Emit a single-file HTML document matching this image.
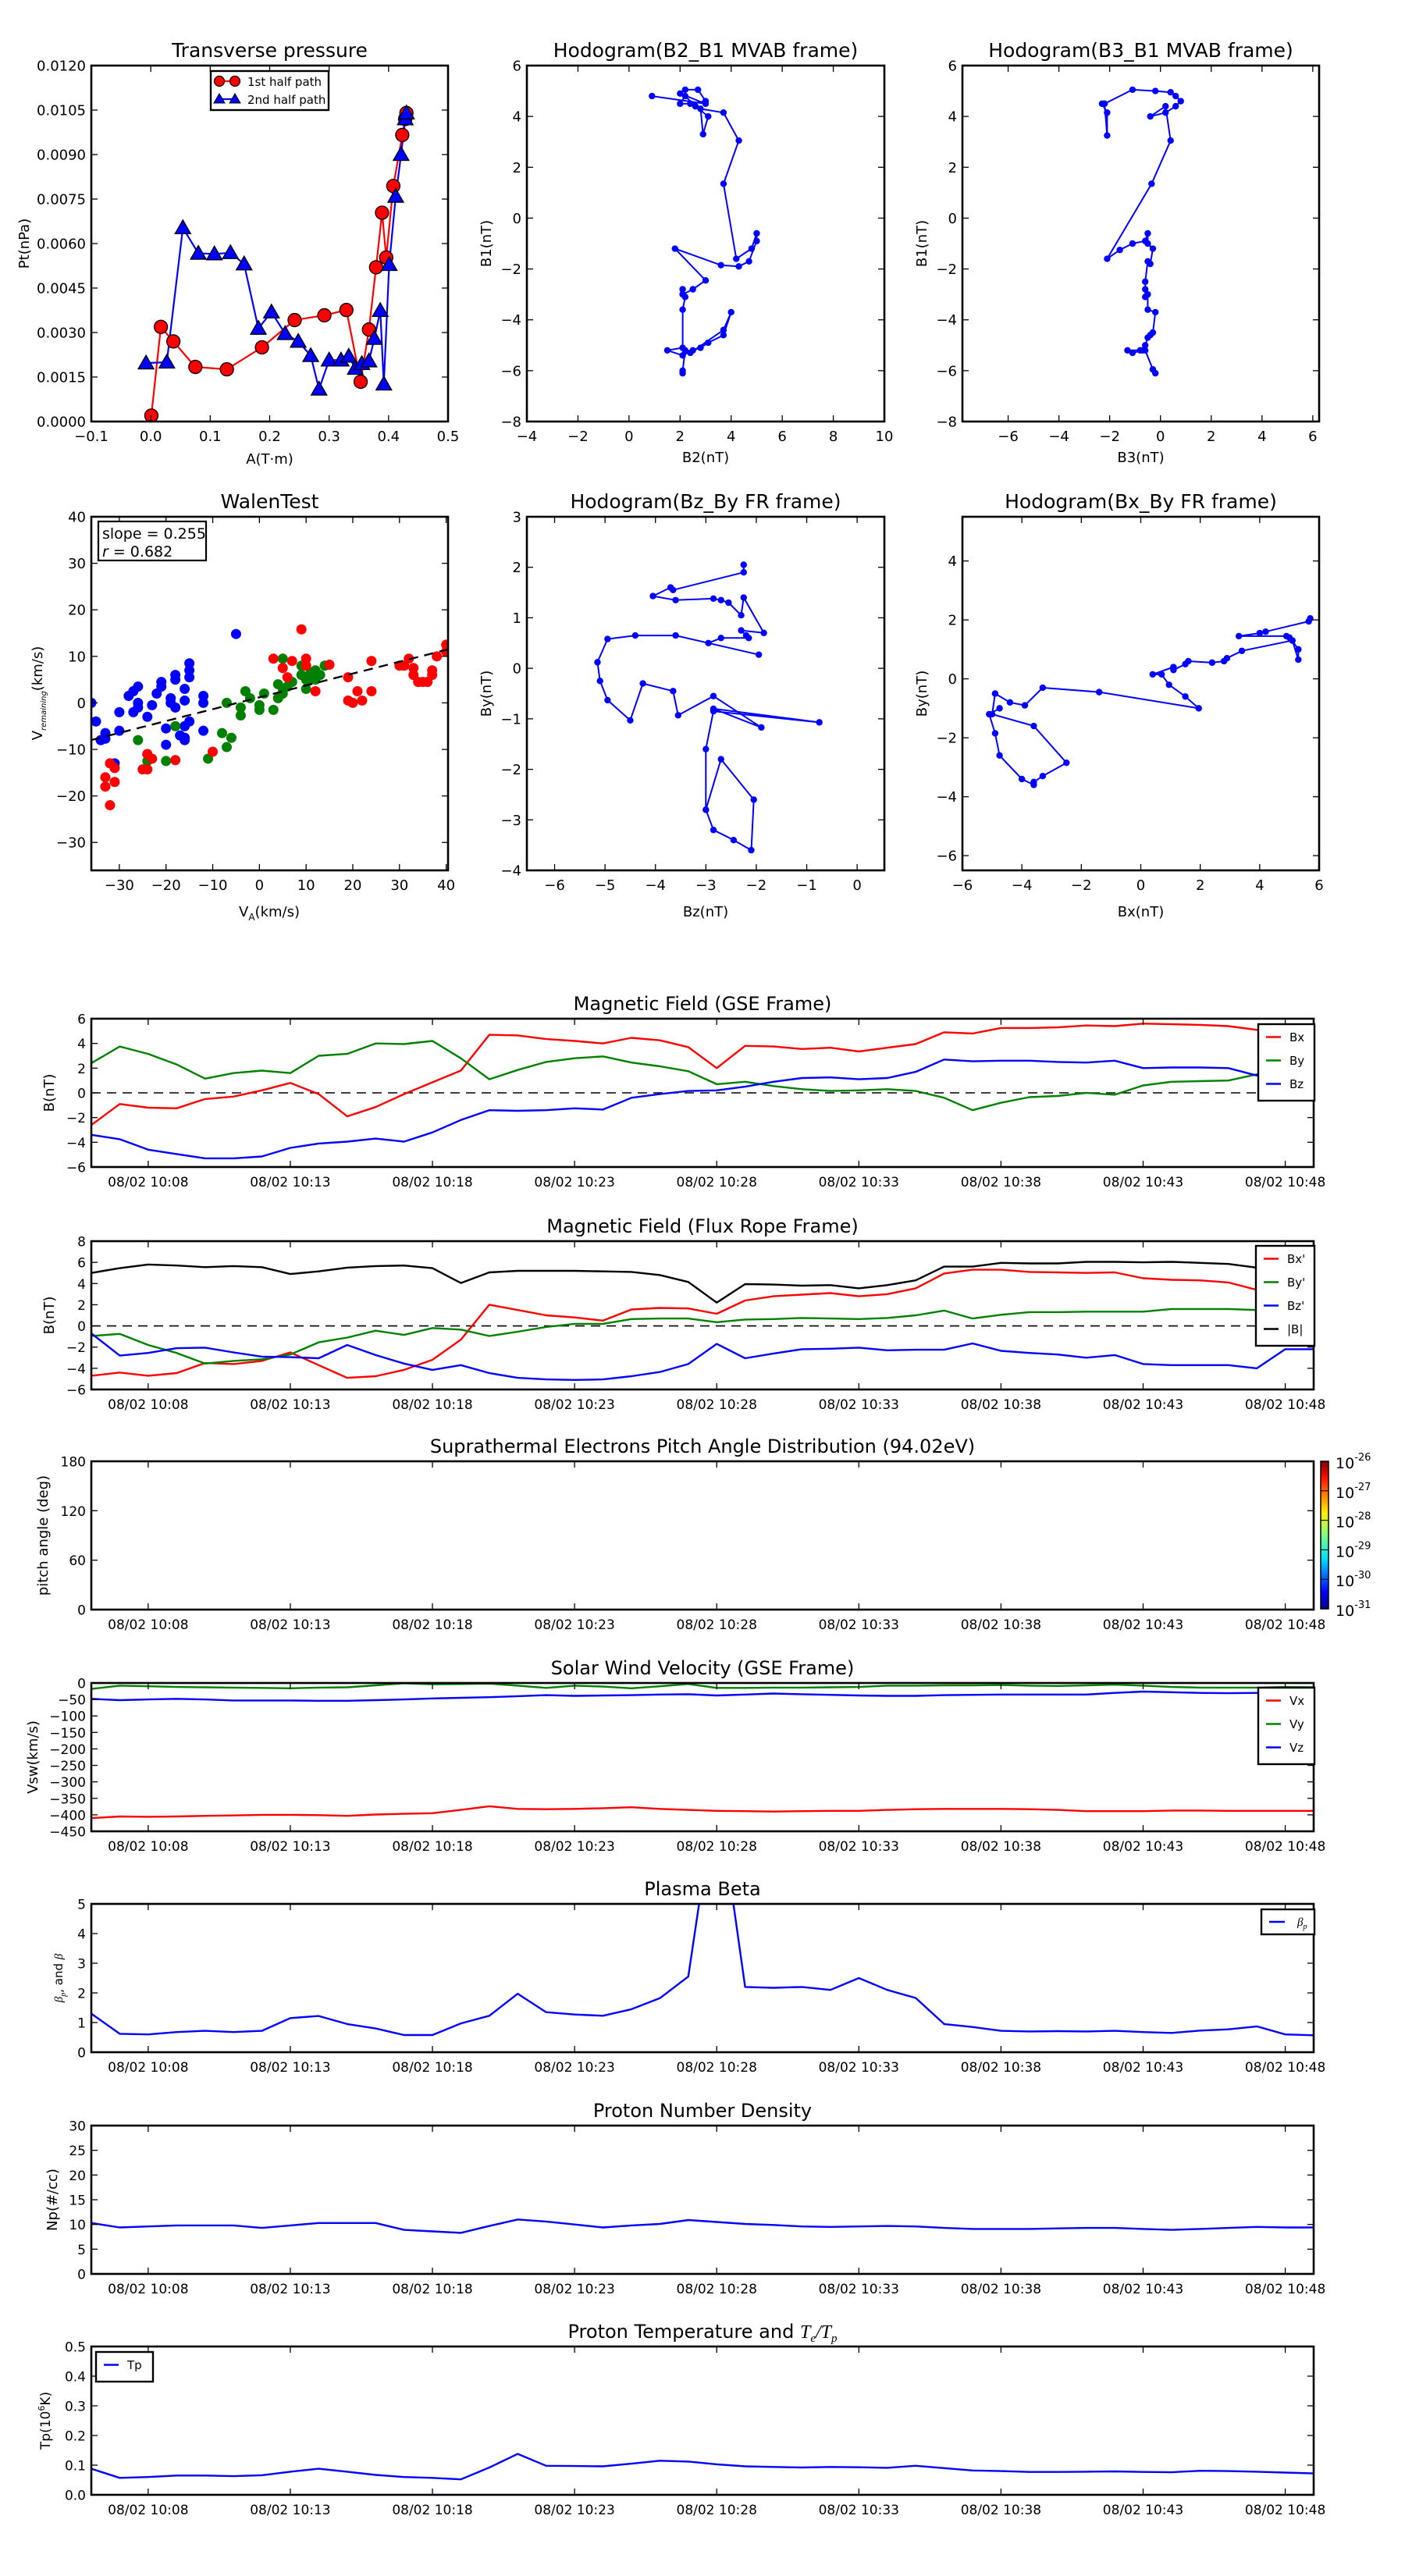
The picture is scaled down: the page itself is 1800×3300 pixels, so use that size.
<!DOCTYPE html>
<html><head><meta charset="utf-8">
<style>
html,body{margin:0;padding:0;background:#fff;}
svg{display:block;font-family:"DejaVu Sans","Liberation Sans",sans-serif;}
</style></head>
<body>
<svg id="fig" xmlns="http://www.w3.org/2000/svg" width="1800" height="3300" viewBox="0 0 1800 3300">
<defs>
<linearGradient id="jet" x1="0" y1="1" x2="0" y2="0">
<stop offset="0" stop-color="#00007f"/><stop offset="0.11" stop-color="#0000ff"/><stop offset="0.34" stop-color="#00dfff"/>
<stop offset="0.5" stop-color="#7fff7f"/><stop offset="0.65" stop-color="#ffef00"/><stop offset="0.89" stop-color="#ff1000"/><stop offset="1" stop-color="#7f0000"/>
</linearGradient>
</defs>
</svg>
<script>
// ---------- DATA ----------
const ptA1=[0.001,0.017,0.038,0.075,0.128,0.187,0.242,0.292,0.329,0.353,0.367,0.379,0.389,0.396,0.408,0.423,0.428,0.430];
const ptP1=[0.0002,0.00319,0.0027,0.00184,0.00176,0.0025,0.00342,0.00358,0.00376,0.00134,0.0031,0.0052,0.00704,0.00553,0.00794,0.00966,0.0102,0.0104];
const ptA2=[-0.008,0.027,0.054,0.080,0.107,0.134,0.157,0.181,0.203,0.226,0.248,0.269,0.283,0.300,0.320,0.333,0.344,0.355,0.367,0.376,0.386,0.392,0.401,0.412,0.421,0.428,0.430];
const ptP2=[0.00197,0.002,0.00653,0.00567,0.00565,0.00569,0.00531,0.00314,0.00369,0.00296,0.0027,0.00222,0.00109,0.00207,0.00207,0.0022,0.00179,0.00195,0.00204,0.0028,0.00374,0.00126,0.00529,0.00759,0.009,0.0102,0.0104];

const hB2=[0.9,3.0,2.0,2.2,2.7,3.0,2.4,2.0,2.2,2.6,3.1,2.9,2.8,3.7,4.3,3.7,4.2,4.8,5.0,5.0,4.7,4.3,3.6,1.8,3.0,2.5,2.1,2.1,2.2,2.1,2.1,1.5,2.1,2.5,2.8,3.1,3.7,4.0,3.7,2.4,2.2,2.1,2.1];
const hB1a=[4.8,4.5,4.9,5.05,5.05,4.6,4.5,4.5,4.8,4.4,4.0,3.3,4.3,4.15,3.05,1.35,-1.6,-1.2,-0.6,-0.9,-1.7,-1.9,-1.85,-1.2,-2.45,-2.8,-3.0,-2.8,-3.1,-3.6,-5.1,-5.2,-5.4,-5.2,-5.1,-4.9,-4.6,-3.7,-4.4,-5.3,-5.2,-6.0,-6.1];
const hB3=[-2.3,-2.1,-2.1,-2.2,-1.1,-0.2,0.4,0.6,0.8,0.6,0.2,-0.4,0.2,0.4,-0.35,-2.1,-1.6,-1.1,-0.6,-0.5,-0.5,-0.3,-0.4,-0.5,-0.6,-0.6,-0.6,-0.5,-0.5,-0.2,-0.3,-0.4,-0.5,-0.6,-0.7,-1.1,-1.3,-0.8,-0.6,-0.3,-0.2];
const hB1b=[4.5,4.15,3.25,4.5,5.05,5.0,4.95,4.8,4.6,4.4,4.15,4.0,4.4,3.05,1.35,-1.6,-1.25,-1.0,-0.9,-0.6,-1.0,-1.2,-1.8,-1.7,-2.5,-2.8,-3.1,-3.0,-3.6,-3.7,-4.5,-4.6,-4.7,-5.0,-5.2,-5.3,-5.2,-5.2,-5.2,-5.95,-6.1];

const wBlueX=[-36,-35,-34,-33,-33,-31,-30,-30,-28,-27,-27,-26,-26,-26,-24,-23,-22,-21,-21,-20,-20,-19,-19,-18,-18,-17,-16,-16,-16,-16,-15,-15,-15,-15,-12,-12,-12,-5,-18,-16];
const wBlueY=[0,-4,-8,-6.5,-7.7,-13,-6,-2,1.5,-2,2.5,3.5,0,-1,-3,-0.5,2,4.5,3.5,-5.5,-9,1,0,-1,6,-7,-8,-7.5,0.5,3,5.5,8.5,7,-4,-6,1.5,0,14.8,5,-5];
const wGreenX=[-26,-24,-24,-20,-18,-11,-8,-7,-6,-7,-4,-4,-3,-2,0,0,1,3,4,4,5,5,5,6,7,9,9,10,10,11,11,12,13,14,10,12];
const wGreenY=[-8,-11,-12.5,-12.5,-5,-12,-6.5,-9.5,-7.5,0,-1,-2.7,2.5,1,-0.5,-1.5,2,-1.5,4,1,9.5,3,2,3.5,4.5,6,8,3,8,5,6.5,5,6,8,5,7];
const wRedX=[-33,-33,-32,-32,-31,-31,-25,-24,-24,-23,-18,-10,3,5,6,7,9,10,10,12,15,19,19,20,21,22,24,24,30,32,33,34,35,36,37,37,38,40,40,31,33];
const wRedY=[-16,-18,-22,-13,-14,-17,-14.3,-14.3,-11,-12,-12.3,-10.5,9.5,7.5,5.5,9,15.8,9.5,8,2.5,8.2,5.5,0.5,0,2.5,0.5,2.5,9,8,9.5,7.5,4.5,4.5,4.5,7,6,10,12.5,11,8,6];
const walenSlope=0.255, walenIntercept=1.2;

const frBz=[-2.25,-2.25,-3.65,-3.7,-4.05,-3.6,-2.85,-2.7,-2.55,-2.3,-2.25,-1.85,-2.3,-2.2,-2.15,-2.7,-2.95,-1.95,-3.6,-4.4,-4.95,-5.15,-5.1,-4.95,-4.5,-4.25,-3.65,-3.55,-2.85,-1.9,-2.85,-0.75,-2.85,-3.0,-3.0,-2.7,-2.05,-2.1,-2.45,-2.85,-3.0];
const frBy1=[2.05,1.9,1.55,1.6,1.43,1.35,1.38,1.35,1.3,1.05,1.4,0.7,0.75,0.65,0.6,0.6,0.5,0.27,0.65,0.65,0.58,0.12,-0.25,-0.63,-1.03,-0.3,-0.45,-0.93,-0.55,-1.17,-0.8,-1.07,-0.85,-1.6,-2.8,-1.8,-2.6,-3.6,-3.4,-3.2,-2.8];
const frBx=[5.7,5.65,4.2,4.0,3.3,4.9,5.0,5.1,5.3,5.3,5.1,3.4,2.9,2.8,2.4,1.6,1.5,1.1,1.1,0.4,0.7,0.95,1.5,1.95,-1.4,-3.3,-3.9,-4.4,-4.9,-5.0,-3.6,-2.5,-3.3,-3.6,-3.6,-4.0,-4.75,-4.9,-5.1,-4.75];
const frBy2=[2.05,1.95,1.6,1.55,1.45,1.45,1.4,1.3,1.0,0.65,1.3,0.95,0.7,0.6,0.55,0.6,0.5,0.3,0.4,0.15,0.15,-0.2,-0.6,-1.0,-0.45,-0.3,-0.9,-0.8,-0.5,-1.2,-1.6,-2.85,-3.3,-3.5,-3.6,-3.4,-2.6,-1.85,-1.2,-1.0];

const tickMinutes=[2,7,12,17,22,27,32,37,42];
const tickLabels=['08/02 10:08','08/02 10:13','08/02 10:18','08/02 10:23','08/02 10:28','08/02 10:33','08/02 10:38','08/02 10:43','08/02 10:48'];

const gseBx=[-2.6,-0.9,-1.2,-1.25,-0.5,-0.3,0.2,0.8,-0.1,-1.9,-1.15,-0.1,0.85,1.8,4.7,4.65,4.35,4.2,4.0,4.45,4.25,3.7,2.0,3.8,3.75,3.55,3.65,3.35,3.65,3.95,4.9,4.8,5.25,5.25,5.3,5.45,5.4,5.6,5.55,5.5,5.4,5.1,5.2,5.3];
const gseBy=[2.4,3.75,3.15,2.3,1.15,1.6,1.8,1.6,3.0,3.15,4.0,3.95,4.2,2.8,1.1,1.85,2.5,2.8,2.95,2.45,2.15,1.75,0.7,0.9,0.55,0.3,0.15,0.2,0.3,0.15,-0.4,-1.4,-0.8,-0.35,-0.25,0,-0.15,0.6,0.9,0.95,1.0,1.5,-0.55,-0.5];
const gseBz=[-3.4,-3.75,-4.6,-4.95,-5.3,-5.3,-5.15,-4.45,-4.1,-3.95,-3.7,-3.95,-3.2,-2.2,-1.4,-1.45,-1.4,-1.25,-1.35,-0.4,-0.1,0.15,0.2,0.5,0.9,1.2,1.25,1.1,1.2,1.7,2.7,2.55,2.6,2.6,2.5,2.45,2.6,2.0,2.05,2.05,2.0,1.4,3.7,3.6];

const frpBx=[-4.7,-4.4,-4.7,-4.45,-3.5,-3.6,-3.3,-2.5,-3.7,-4.9,-4.75,-4.15,-3.2,-1.3,2.0,1.5,1.0,0.8,0.5,1.55,1.7,1.65,1.15,2.4,2.8,2.95,3.1,2.8,3.0,3.55,4.95,5.3,5.3,5.1,5.05,5.0,5.05,4.5,4.35,4.3,4.1,3.4,5.7,5.7];
const frpBy=[-0.95,-0.75,-1.8,-2.55,-3.55,-3.3,-3.15,-2.7,-1.55,-1.1,-0.45,-0.85,-0.2,-0.35,-0.95,-0.55,-0.1,0.2,0.2,0.65,0.7,0.7,0.35,0.6,0.65,0.75,0.7,0.65,0.75,1.0,1.45,0.7,1.05,1.3,1.3,1.35,1.35,1.35,1.6,1.6,1.6,1.5,2.1,2.1];
const frpBz=[-0.7,-2.8,-2.55,-2.1,-2.05,-2.5,-2.9,-2.95,-3.05,-1.8,-2.75,-3.55,-4.15,-3.7,-4.45,-4.9,-5.05,-5.1,-5.05,-4.75,-4.35,-3.6,-1.7,-3.05,-2.6,-2.2,-2.15,-2.05,-2.3,-2.25,-2.25,-1.65,-2.35,-2.55,-2.7,-3.0,-2.75,-3.6,-3.7,-3.7,-3.7,-4.0,-2.2,-2.2];
const frpBt=[5.0,5.45,5.8,5.7,5.55,5.65,5.55,4.9,5.15,5.5,5.65,5.7,5.45,4.05,5.05,5.2,5.2,5.2,5.15,5.1,4.8,4.15,2.2,3.95,3.9,3.8,3.85,3.55,3.85,4.3,5.6,5.6,5.95,5.9,5.9,6.05,6.05,6.0,6.05,5.95,5.85,5.5,5.7,5.7];

const vswX=[-410,-405,-406,-405,-403,-402,-400,-400,-401,-403,-399,-397,-395,-385,-374,-382,-383,-382,-380,-377,-382,-385,-388,-389,-390,-389,-388,-388,-385,-383,-382,-382,-382,-383,-385,-389,-389,-389,-387,-387,-388,-388,-388,-388];
const vswY=[-18,-8,-10,-12,-13,-14,-15,-16,-14,-13,-7,-1,-4,-3,-2,-8,-15,-8,-11,-16,-10,-3,-15,-15,-14,-14,-13,-12,-8,-8,-7,-7,-6,-8,-9,-7,-5,-8,-12,-14,-14,-14,-12,-13];
const vswZ=[-48,-52,-50,-48,-50,-53,-53,-53,-54,-54,-52,-50,-47,-45,-43,-40,-37,-39,-38,-37,-35,-34,-38,-35,-32,-34,-36,-38,-39,-39,-37,-36,-35,-35,-35,-35,-30,-26,-28,-30,-31,-30,-30,-30];

const betaP=[1.3,0.62,0.6,0.68,0.72,0.68,0.72,1.15,1.22,0.95,0.8,0.58,0.58,0.97,1.23,1.97,1.35,1.27,1.23,1.45,1.82,2.55,9.0,2.2,2.17,2.2,2.1,2.5,2.1,1.83,0.95,0.85,0.72,0.7,0.71,0.7,0.72,0.68,0.65,0.73,0.77,0.87,0.6,0.57];
const npVals=[10.3,9.4,9.6,9.8,9.8,9.8,9.3,9.8,10.3,10.3,10.3,8.9,8.6,8.3,9.7,11.0,10.6,10.0,9.4,9.8,10.1,10.9,10.5,10.1,9.9,9.6,9.5,9.6,9.7,9.6,9.3,9.1,9.1,9.1,9.2,9.3,9.3,9.1,8.9,9.1,9.3,9.5,9.4,9.4];
const tpVals=[0.088,0.057,0.060,0.065,0.065,0.063,0.066,0.078,0.088,0.078,0.067,0.060,0.057,0.052,0.092,0.138,0.098,0.097,0.096,0.105,0.115,0.112,0.103,0.096,0.094,0.092,0.094,0.093,0.091,0.098,0.090,0.082,0.080,0.077,0.077,0.078,0.079,0.077,0.076,0.081,0.080,0.078,0.075,0.072];
const cbarLabels=['-26','-27','-28','-29','-30','-31'];

// ---------- HELPERS ----------
const NS='http://www.w3.org/2000/svg';
const fig=document.getElementById('fig');
function mk(tag,attrs,parent){const e=document.createElementNS(NS,tag);for(const k in attrs)e.setAttribute(k,attrs[k]);(parent||fig).appendChild(e);return e;}
function txt(s,x,y,size,anchor,parent,extra){const t=mk('text',Object.assign({x:x,y:y,'font-size':size,'text-anchor':anchor||'middle',fill:'#000'},extra||{}),parent);t.textContent=s;return t;}
function fmtNum(v,d){const s=Math.abs(v).toFixed(d);return (v<0?'\u2212':'')+s;}
let clipN=0;
function axes(c){
  const g=mk('g',{});
  
  
  const sx=v=>c.x0+(v-c.xmin)/(c.xmax-c.xmin)*c.w;
  const sy=v=>c.y0+c.h-(v-c.ymin)/(c.ymax-c.ymin)*c.h;
  const id='clip'+(clipN++);
  const cp=mk('clipPath',{id:id},g);mk('rect',{x:c.x0,y:c.y0,width:c.w,height:c.h},cp);
  const plot=mk('g',{'clip-path':'url(#'+id+')'},g);
  const tl=8, fs=c.fs||18;
  const xt=mk('g',{},g);
  
  
  c.xticks.forEach((v,i)=>{const x=sx(v);
    mk('line',{x1:x,x2:x,y1:c.y0+c.h,y2:c.y0+c.h-tl,stroke:'#000','stroke-width':1.3},xt);
    mk('line',{x1:x,x2:x,y1:c.y0,y2:c.y0+tl,stroke:'#000','stroke-width':1.3},xt);
    txt(c.xlabels[i],x,c.y0+c.h+25,fs,'middle',xt);});
  const yt=mk('g',{},g);
  
  
  c.yticks.forEach((v,i)=>{const y=sy(v);
    mk('line',{x1:c.x0,x2:c.x0+tl,y1:y,y2:y,stroke:'#000','stroke-width':1.3},yt);
    mk('line',{x1:c.x0+c.w,x2:c.x0+c.w-tl,y1:y,y2:y,stroke:'#000','stroke-width':1.3},yt);
    txt(c.ylabels[i],c.x0-7,y+6.5,fs,'end',yt);});
  const fr=mk('rect',{x:c.x0,y:c.y0,width:c.w,height:c.h,fill:'none',stroke:'#000','stroke-width':2.6},g);
  
  
  const tt=txt(c.title,c.x0+c.w/2,c.y0-11,c.tfs||25,'middle',g);
  
  
  if(c.xlabel){const xl=txt(c.xlabel,c.x0+c.w/2,c.xlabelY,18,'middle',g);
    
    }
  if(c.ylabel){const yl=txt(c.ylabel,0,0,c.ylfs||18,'middle',g,{transform:'translate('+(c.ylabelX+6)+','+(c.y0+c.h/2)+') rotate(-90)'});
    
    }
  return {sx,sy,plot,g};
}
function line(ax,xs,ys,color,w,name,dash){
  const pts=xs.map((x,i)=>ax.sx(x).toFixed(1)+','+ax.sy(ys[i]).toFixed(1)).join(' ');
  const p=mk('polyline',{points:pts,fill:'none',stroke:color,'stroke-width':w||2.4,'stroke-linejoin':'round'},ax.plot);
  if(dash)p.setAttribute('stroke-dasharray',dash);
  
  
  return p;
}
function dots(ax,xs,ys,color,r,name,edge){
  const g=mk('g',{},ax.plot);
  
  
  xs.forEach((x,i)=>{const c=mk('circle',{cx:ax.sx(x),cy:ax.sy(ys[i]),r:r,fill:color},g);if(edge){c.setAttribute('stroke','#000');c.setAttribute('stroke-width',1.3);}});
  return g;
}
function tris(ax,xs,ys,color,s,name){
  const g=mk('g',{},ax.plot);
  
  
  xs.forEach((x,i)=>{const cx=ax.sx(x),cy=ax.sy(ys[i]);
    mk('polygon',{points:(cx)+','+(cy-s)+' '+(cx-s)+','+(cy+s*0.75)+' '+(cx+s)+','+(cy+s*0.75),fill:color,stroke:'#000','stroke-width':1.3},g);});
  return g;
}
function range(a,b,s){const r=[];for(let v=a;v<=b+1e-9;v+=s)r.push(Math.round(v*1e6)/1e6);return r;}
function legend(x,y,w,entries,name,fs){
  const g=mk('g',{});
  
  
  const h=entries.length*(fs*2)+8;
  mk('rect',{x:x,y:y,width:w,height:h,fill:'#fff',stroke:'#000','stroke-width':2.4},g);
  entries.forEach((e,i)=>{const yy=y+fs*1.1+i*fs*2;
    const it=mk('g',{},g);
    
    
    mk('line',{x1:x+10,x2:x+29,y1:yy,y2:yy,stroke:e[1],'stroke-width':2.6},it);
    txt(e[0],x+40,yy+fs*0.38,fs,'start',it);});
  return g;
}

// ---------- TOP ROW ----------
const a1=axes({name:'transverse-pressure-chart',x0:117,y0:84,w:457,h:456,xmin:-0.1,xmax:0.5,ymin:0,ymax:0.012,
  xticks:range(-0.1,0.5,0.1),xlabels:range(-0.1,0.5,0.1).map(v=>fmtNum(v,1)),
  yticks:range(0,0.012,0.0015),ylabels:range(0,0.012,0.0015).map(v=>v.toFixed(4)),
  title:'Transverse pressure',xlabel:'A(T\u00b7m)',xlabelY:594,ylabel:'Pt(nPa)',ylabelX:31});
line(a1,ptA1,ptP1,'#ff0000',2.2,'first-half-path-line');
line(a1,ptA2,ptP2,'#0000ff',2.2,'second-half-path-line');
dots(a1,ptA1,ptP1,'#ff0000',8.5,'first-half-path-markers',true);
tris(a1,ptA2,ptP2,'#0000ff',10,'second-half-path-markers');
{const g=mk('g',{});
 
 
 mk('rect',{x:270,y:91,width:151,height:50,fill:'#fff',stroke:'#000','stroke-width':2.4},g);
 mk('line',{x1:281,x2:301,y1:104,y2:104,stroke:'#ff0000','stroke-width':2.2},g);
 mk('circle',{cx:281,cy:104,r:6.5,fill:'#ff0000',stroke:'#000','stroke-width':1.2},g);
 mk('circle',{cx:301,cy:104,r:6.5,fill:'#ff0000',stroke:'#000','stroke-width':1.2},g);
 txt('1st half path',317,110,15,'start',g);
 mk('line',{x1:281,x2:301,y1:127,y2:127,stroke:'#0000ff','stroke-width':2.2},g);
 mk('polygon',{points:'281,120 274,132 288,132',fill:'#0000ff',stroke:'#000','stroke-width':1},g);
 mk('polygon',{points:'301,120 294,132 308,132',fill:'#0000ff',stroke:'#000','stroke-width':1},g);
 txt('2nd half path',317,133,15,'start',g);}

const a2=axes({name:'hodogram-b2-b1-chart',x0:675,y0:84,w:458,h:456,xmin:-4,xmax:10,ymin:-8,ymax:6,
  xticks:range(-4,10,2),xlabels:range(-4,10,2).map(v=>fmtNum(v,0)),
  yticks:range(-8,6,2),ylabels:range(-8,6,2).map(v=>fmtNum(v,0)),
  title:'Hodogram(B2_B1 MVAB frame)',xlabel:'B2(nT)',xlabelY:592,ylabel:'B1(nT)',ylabelX:623});
line(a2,hB2,hB1a,'#0000ff',2,'hodogram-b2-b1-path');
dots(a2,hB2,hB1a,'#0000ff',4.2,'hodogram-b2-b1-points');

const a3=axes({name:'hodogram-b3-b1-chart',x0:1233,y0:84,w:457,h:456,xmin:-7.8,xmax:6.25,ymin:-8,ymax:6,
  xticks:range(-6,6,2),xlabels:range(-6,6,2).map(v=>fmtNum(v,0)),
  yticks:range(-8,6,2),ylabels:range(-8,6,2).map(v=>fmtNum(v,0)),
  title:'Hodogram(B3_B1 MVAB frame)',xlabel:'B3(nT)',xlabelY:592,ylabel:'B1(nT)',ylabelX:1181});
line(a3,hB3,hB1b,'#0000ff',2,'hodogram-b3-b1-path');
dots(a3,hB3,hB1b,'#0000ff',4.2,'hodogram-b3-b1-points');

// ---------- SECOND ROW ----------
const a4=axes({name:'walen-test-chart',x0:117,y0:662,w:457,h:453,xmin:-36,xmax:40.4,ymin:-36,ymax:40,
  xticks:range(-30,40,10),xlabels:range(-30,40,10).map(v=>fmtNum(v,0)),
  yticks:range(-30,40,10),ylabels:range(-30,40,10).map(v=>fmtNum(v,0)),
  title:'WalenTest',xlabel:'',ylabel:'',ylabelX:48});
dots(a4,wBlueX,wBlueY,'#0000ff',6.5,'walen-blue-points');
dots(a4,wGreenX,wGreenY,'#008000',6.5,'walen-green-points');
dots(a4,wRedX,wRedY,'#ff0000',6.5,'walen-red-points');
line(a4,[-36,40.4],[-36*walenSlope+walenIntercept-0.0,40.4*walenSlope+walenIntercept],'#000',2.4,'walen-fit-line','12,8');
{const g=mk('g',{});
 
 
 mk('rect',{x:126,y:668,width:138,height:50,fill:'#fff',stroke:'#000','stroke-width':2.2},g);
 txt('slope = 0.255',131,690,19,'start',g);
 const t=txt('',131,713,19,'start',g);t.innerHTML='<tspan font-style="italic">r</tspan> = 0.682';}
{const t=txt('',117+228,1174,18,'middle',a4.g);t.innerHTML='V<tspan font-size="12" dy="5">A</tspan><tspan dy="-5">(km/s)</tspan>';
 
 
 const y=txt('',0,0,18,'middle',a4.g,{transform:'translate(54,888) rotate(-90)'});
 y.innerHTML='V<tspan font-size="10" font-style="italic" dy="5">remaining</tspan><tspan dy="-5">(km/s)</tspan>';
 
 }

const a5=axes({name:'hodogram-bz-by-chart',x0:675,y0:662,w:458,h:453,xmin:-6.55,xmax:0.54,ymin:-4,ymax:3,
  xticks:range(-6,0,1),xlabels:range(-6,0,1).map(v=>fmtNum(v,0)),
  yticks:range(-4,3,1),ylabels:range(-4,3,1).map(v=>fmtNum(v,0)),
  title:'Hodogram(Bz_By FR frame)',xlabel:'Bz(nT)',xlabelY:1174,ylabel:'By(nT)',ylabelX:623});
line(a5,frBz,frBy1,'#0000ff',2,'hodogram-bz-by-path');
dots(a5,frBz,frBy1,'#0000ff',4.2,'hodogram-bz-by-points');

const a6=axes({name:'hodogram-bx-by-chart',x0:1233,y0:662,w:457,h:453,xmin:-6,xmax:6,ymin:-6.5,ymax:5.5,
  xticks:range(-6,6,2),xlabels:range(-6,6,2).map(v=>fmtNum(v,0)),
  yticks:range(-6,4,2),ylabels:range(-6,4,2).map(v=>fmtNum(v,0)),
  title:'Hodogram(Bx_By FR frame)',xlabel:'Bx(nT)',xlabelY:1174,ylabel:'By(nT)',ylabelX:1181});
line(a6,frBx,frBy2,'#0000ff',2,'hodogram-bx-by-path');
dots(a6,frBx,frBy2,'#0000ff',4.2,'hodogram-bx-by-points');

// ---------- TIME SERIES ----------
const TX0=117,TW=1566,TH=190;
const mins=gseBx.map((_,i)=>i);
function ts(name,y0,ymin,ymax,yticks,ylabels,title,ylabel,ylabelX){
  return axes({name:name,x0:TX0,y0:y0,w:TW,h:TH,xmin:0,xmax:43,ymin:ymin,ymax:ymax,
    xticks:tickMinutes,xlabels:tickLabels,yticks:yticks,ylabels:ylabels,title:title,ylabel:ylabel,ylabelX:ylabelX,fs:17,tfs:24});
}
const t1=ts('magnetic-field-gse-chart',1305,-6,6,range(-6,6,2),range(-6,6,2).map(v=>fmtNum(v,0)),'Magnetic Field (GSE Frame)','B(nT)',63);
line(t1,[0,43],[0,0],'#000',1.6,'zero-line','12,8');
line(t1,mins,gseBx,'#ff0000',2.4,'series-bx');
line(t1,mins,gseBy,'#008000',2.4,'series-by');
line(t1,mins,gseBz,'#0000ff',2.4,'series-bz');
legend(1612,1312,72,[['Bx','#ff0000'],['By','#008000'],['Bz','#0000ff']],'gse-legend',15);

const t2=ts('magnetic-field-flux-rope-chart',1590,-6,8,range(-6,8,2),range(-6,8,2).map(v=>fmtNum(v,0)),'Magnetic Field (Flux Rope Frame)','B(nT)',63);
line(t2,[0,43],[0,0],'#000',1.6,'zero-line','12,8');
line(t2,mins,frpBx,'#ff0000',2.4,'series-bx-prime');
line(t2,mins,frpBy,'#008000',2.4,'series-by-prime');
line(t2,mins,frpBz,'#0000ff',2.4,'series-bz-prime');
line(t2,mins,frpBt,'#000000',2.4,'series-b-magnitude');
legend(1609,1596,75,[["Bx'",'#ff0000'],["By'",'#008000'],["Bz'",'#0000ff'],['|B|','#000000']],'flux-rope-legend',15);

const t3=ts('pitch-angle-chart',1872,0,180,[0,60,120,180],['0','60','120','180'],'Suprathermal Electrons Pitch Angle Distribution (94.02eV)','pitch angle (deg)',55);
{const g=mk('g',{});
 
 
 mk('rect',{x:1692,y:1872,width:10,height:189,fill:'url(#jet)',stroke:'#000','stroke-width':1.5},g);
 cbarLabels.forEach((s,i)=>{const y=1872+i*189/5;
   mk('line',{x1:1692,x2:1702,y1:y,y2:y,stroke:'#000','stroke-width':1},g);
   const t=txt('',1711,y+9,19,'start',g);t.innerHTML='10<tspan font-size="13" dy="-10">'+s+'</tspan>';});}

const t4=ts('solar-wind-velocity-chart',2156,-450,0,range(-450,0,50),range(-450,0,50).map(v=>fmtNum(v,0)),'Solar Wind Velocity (GSE Frame)','Vsw(km/s)',42);
line(t4,mins,vswX,'#ff0000',2.4,'series-vx');
line(t4,mins,vswY,'#008000',2.4,'series-vy');
line(t4,mins,vswZ,'#0000ff',2.4,'series-vz');
legend(1612,2162,72,[['Vx','#ff0000'],['Vy','#008000'],['Vz','#0000ff']],'velocity-legend',15);

const t5=ts('plasma-beta-chart',2439,0,5,range(0,5,1),range(0,5,1).map(v=>String(v)),'Plasma Beta','',75);
line(t5,mins,betaP,'#0000ff',2.4,'series-beta-p');
{const y=txt('',0,0,15,'middle',t5.g,{transform:'translate(80,2534) rotate(-90)'});
 y.innerHTML='<tspan font-style="italic" font-family="Liberation Serif">\u03b2<tspan font-size="10" dy="4">p</tspan></tspan><tspan dy="-4">, and </tspan><tspan font-style="italic" font-family="Liberation Serif">\u03b2</tspan>';
 
 
 const g=mk('g',{});
 
 
 mk('rect',{x:1616,y:2446,width:68,height:32,fill:'#fff',stroke:'#000','stroke-width':2.4},g);
 mk('line',{x1:1626,x2:1646,y1:2462,y2:2462,stroke:'#0000ff','stroke-width':2.6},g);
 const t=txt('',1662,2467,15,'start',g,{'font-family':'Liberation Serif','font-style':'italic'});t.innerHTML='\u03b2<tspan font-size="10" dy="4">p</tspan>';}

const t6=ts('proton-density-chart',2723,0,30,range(0,30,5),range(0,30,5).map(v=>String(v)),'Proton Number Density','Np(#/cc)',67);
line(t6,mins,npVals,'#0000ff',2.4,'series-np');

const t7=ts('proton-temperature-chart',3006,0,0.5,range(0,0.5,0.1),range(0,0.5,0.1).map(v=>v.toFixed(1)),'','',58);
line(t7,mins,tpVals,'#0000ff',2.4,'series-tp');
{const t=txt('',900,2995,24,'middle',t7.g);
 t.innerHTML='Proton Temperature and <tspan font-family="Liberation Serif" font-style="italic">T<tspan font-size="15" dy="5">e</tspan><tspan dy="-5">/T</tspan><tspan font-size="15" dy="5">p</tspan></tspan>';
 
 
 const y=txt('',0,0,17,'middle',t7.g,{transform:'translate(64,3101) rotate(-90)'});
 y.innerHTML='Tp(10<tspan font-size="11" dy="-7">6</tspan><tspan dy="7">K)</tspan>';
 
 }
legend(123,3013,73,[['Tp','#0000ff']],'temperature-legend',15);
</script>
</body></html>
